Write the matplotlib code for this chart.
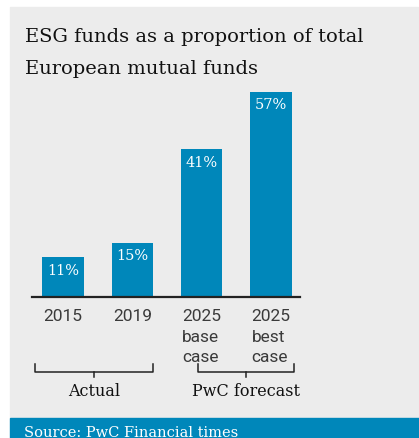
import matplotlib.pyplot as plt
from matplotlib.patches import Rectangle
from matplotlib.lines import Line2D
import matplotlib.transforms as mtransforms

# data
years = ["2015", "2019", "2025\nbase\ncase", "2025\nbest\ncase"]
shares = [11, 15, 41, 57]
groups = ["Actual", "PwC forecast"]
group_spans = [(-0.41, 1.3), (1.94, 3.33)]

W, H = 419, 439
BLUE = "#0087ba"
PANEL = "#ececec"
INK = "#222222"
SERIF = "DejaVu Serif"

fig = plt.figure(figsize=(W / 100, H / 100), dpi=100)
fig.patch.set_facecolor("white")


def fx(px):
    return px / W


def fy(py):
    return 1 - py / H


# grey panel and blue source band, kept behind the axes
fig.patches.append(Rectangle((fx(10), fy(419)), fx(408), 411 / H,
                             transform=fig.transFigure, color=PANEL, zorder=-2))
fig.patches.append(Rectangle((fx(10), 0), fx(409), 20 / H,
                             transform=fig.transFigure, color=BLUE, zorder=-2))

fig.text(fx(25), fy(42), "ESG funds as a proportion of total", fontsize=14,
         family=SERIF, color="#111111", va="baseline")
fig.text(fx(25), fy(74), "European mutual funds", fontsize=14,
         family=SERIF, color="#111111", va="baseline")
fig.text(fx(24), fy(437), "Source: PwC Financial times", fontsize=10.5,
         family=SERIF, color="white", va="baseline")

ax = fig.add_axes([fx(32), fy(298), fx(268), 210 / H])
ax.set_facecolor("none")
x = range(len(shares))
bars = ax.bar(x, shares, width=0.6, color=BLUE, zorder=2)
ax.set_xlim(-0.45, 3.42)
ax.set_ylim(0, 210 / 3.6)

for b, v in zip(bars, shares):
    ax.annotate(f"{v}%", (b.get_x() + b.get_width() / 2, v),
                xytext=(0, -9), textcoords="offset points",
                ha="center", va="center", color="white",
                fontsize=10.5, family=SERIF)

for s in ["top", "right", "left"]:
    ax.spines[s].set_visible(False)
ax.spines["bottom"].set_color(INK)
ax.spines["bottom"].set_linewidth(1.6)
ax.set_yticks([])
ax.set_xticks(list(x))
ax.set_xticklabels(years, fontsize=12.5, family="Roboto",
                   color="#3a3a3a", linespacing=1.45)
for lbl in ax.get_xticklabels():
    lbl.set_multialignment("left")
ax.tick_params(axis="x", length=0, pad=8)

# brackets under the tick labels
tr = mtransforms.blended_transform_factory(ax.transData, fig.transFigure)
for (x0, x1), name in zip(group_spans, groups):
    xm = (x0 + x1) / 2
    pts_x = [x0, x0, x1, x1]
    pts_y = [fy(365), fy(373), fy(373), fy(365)]
    fig.lines.append(Line2D(pts_x, pts_y, transform=tr, color=INK, lw=1.1))
    fig.lines.append(Line2D([xm, xm], [fy(373), fy(378)], transform=tr,
                            color=INK, lw=1.1))
    fig.text(xm, fy(392), name, transform=tr, ha="center", va="center",
             fontsize=11.5, family=SERIF, color="#111111")

fig.savefig("out.png", dpi=100)
